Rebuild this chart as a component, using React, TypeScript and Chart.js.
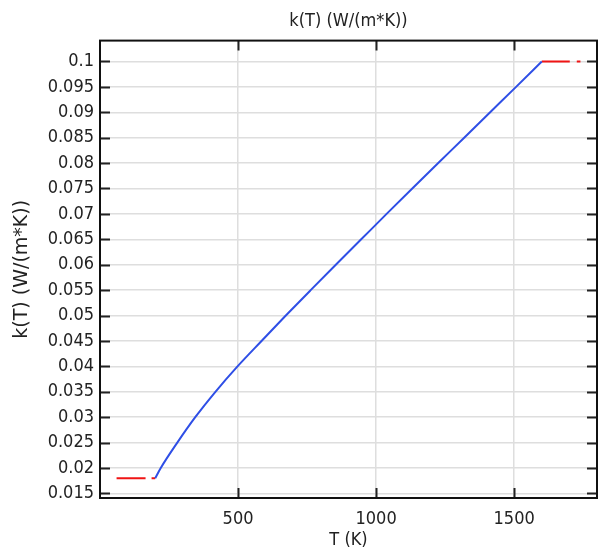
import React, { useEffect, useRef } from "react";
import { Chart, registerables } from "chart.js";

Chart.register(...registerables);

// Temperature (K) and thermal conductivity k(T) (W/(m*K))
const tempK = [200, 220, 280, 345, 418, 498, 585, 673, 763, 854, 946, 1038, 1131, 1225, 1319, 1413, 1507, 1600];
const kValues = [0.018, 0.02, 0.025, 0.03, 0.035, 0.04, 0.045, 0.05, 0.055, 0.06, 0.065, 0.07, 0.075, 0.08, 0.085, 0.09, 0.095, 0.1];

// Constant extrapolation outside the defined range (red dashed)
const lowExtT = [60, 200];
const lowExtK = [0.018, 0.018];
const highExtT = [1600, 1740];
const highExtK = [0.1, 0.1];

const xTicks = [500, 1000, 1500];
const yTicks = [0.015, 0.02, 0.025, 0.03, 0.035, 0.04, 0.045, 0.05, 0.055, 0.06, 0.065, 0.07, 0.075, 0.08, 0.085, 0.09, 0.095, 0.1];

const titleText = "k(T) (W/(m*K))";
const xTitle = "T (K)";
const yTitle = "k(T) (W/(m*K))";

const FONT = "'DejaVu Sans Condensed', 'DejaVu Sans', sans-serif";
const FONT_V = "'DejaVu Sans', sans-serif";
const FS = 18;
const TEXT = "#222";

const framePlugin = {
  id: "frameTicks",
  afterDraw(chart: any) {
    const { ctx, chartArea } = chart;
    const { left, right, top, bottom } = chartArea;
    const xs = chart.scales.x;
    const ys = chart.scales.y;
    ctx.save();
    ctx.strokeStyle = "#222";
    ctx.lineWidth = 2;
    const L = 10;
    ctx.beginPath();
    xs.ticks.forEach((t: any) => {
      const px = Math.round(xs.getPixelForValue(t.value)) + 0.5;
      ctx.moveTo(px, bottom);
      ctx.lineTo(px, bottom - L);
      ctx.moveTo(px, top);
      ctx.lineTo(px, top + L);
    });
    ys.ticks.forEach((t: any) => {
      const py = Math.round(ys.getPixelForValue(t.value)) + 0.5;
      ctx.moveTo(left, py);
      ctx.lineTo(left + L, py);
      ctx.moveTo(right, py);
      ctx.lineTo(right - L, py);
    });
    ctx.stroke();
    ctx.strokeStyle = "#111";
    ctx.lineWidth = 2;
    ctx.strokeRect(left, top, right - left, bottom - top);
    ctx.restore();
  },
};

export default function App() {
  const ref = useRef<HTMLCanvasElement | null>(null);

  useEffect(() => {
    document.body.style.margin = "0";
    const canvas = ref.current;
    if (!canvas) return;
    const toPts = (xs: number[], ys: number[]) => xs.map((x, i) => ({ x, y: ys[i] }));
    const chart = new Chart(canvas, {
      type: "scatter",
      data: {
        datasets: [
          {
            data: toPts(tempK, kValues),
            showLine: true,
            borderColor: "#2f4fe6",
            borderWidth: 2,
            pointRadius: 0,
            cubicInterpolationMode: "monotone",
          },
          {
            data: toPts(lowExtT, lowExtK),
            showLine: true,
            borderColor: "#f01414",
            borderWidth: 2,
            borderDash: [29, 6, 4, 6],
            pointRadius: 0,
          },
          {
            data: toPts(highExtT, highExtK),
            showLine: true,
            borderColor: "#f01414",
            borderWidth: 2,
            borderDash: [28, 7, 4, 6],
            pointRadius: 0,
          },
        ],
      },
      options: {
        responsive: false,
        animation: false,
        devicePixelRatio: 1,
        layout: { padding: { left: 0, right: 1, top: 0, bottom: 0 } },
        plugins: {
          legend: { display: false },
          tooltip: { enabled: false },
          title: {
            display: true,
            text: titleText,
            fullSize: false,
            color: TEXT,
            font: { family: FONT, size: FS, weight: "normal", lineHeight: 1.2 },
            padding: { top: 11, bottom: 8 },
          },
        },
        scales: {
          x: {
            type: "linear",
            min: 0,
            max: 1800,
            afterBuildTicks: (axis: any) => {
              axis.ticks = xTicks.map((v) => ({ value: v }));
            },
            afterFit: (axis: any) => {
              axis.height = 56;
            },
            ticks: {
              color: TEXT,
              font: { family: FONT, size: FS },
              padding: 11,
              maxRotation: 0,
              callback: (v: any) => String(v),
            },
            grid: { color: "#dedede", lineWidth: 1.5, drawTicks: false },
            border: { display: false },
            title: {
              display: true,
              text: xTitle,
              color: TEXT,
              font: { family: FONT, size: FS },
              padding: { top: 0, bottom: 3 },
            },
          },
          y: {
            type: "linear",
            min: 0.0141,
            max: 0.1041,
            afterBuildTicks: (axis: any) => {
              axis.ticks = yTicks.map((v) => ({ value: v }));
            },
            afterFit: (axis: any) => {
              axis.width = 100;
            },
            ticks: {
              color: TEXT,
              font: { family: FONT, size: FS },
              padding: 6,
              callback: (v: any) => String(+Number(v).toFixed(3)),
            },
            grid: { color: "#dedede", lineWidth: 1.5, drawTicks: false },
            border: { display: false },
            title: {
              display: true,
              text: yTitle,
              color: TEXT,
              font: { family: FONT_V, size: 19 },
              padding: { top: 11, bottom: 0 },
            },
          },
        },
      },
      plugins: [framePlugin],
    } as any);
    return () => chart.destroy();
  }, []);

  return (
    <div style={{ width: 598, height: 554 }}>
      <canvas ref={ref} width={598} height={554} />
    </div>
  );
}
